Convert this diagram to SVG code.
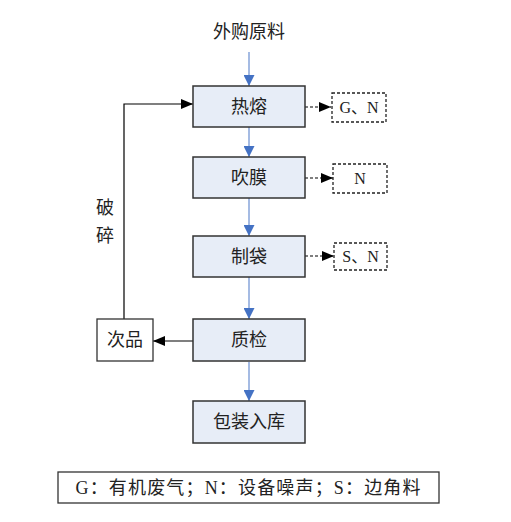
<svg xmlns="http://www.w3.org/2000/svg" width="511" height="522" viewBox="0 0 511 522">
<style>
.proc rect{fill:#E7EDF7;stroke:#333;stroke-width:1.5}
.plain rect{fill:#fff;stroke:#333;stroke-width:1.3}
.dash rect{fill:#fff;stroke:#222;stroke-width:1.3;stroke-dasharray:3 2}
text{font-family:"Liberation Serif","Noto Sans CJK SC",serif;fill:#222;text-anchor:middle;dominant-baseline:central}
.t{font-size:18px}
.s{font-size:16px}
.flow{stroke:#8FAADC;stroke-width:1.6;fill:none}
.blk{stroke:#000;stroke-width:1.2;fill:none}
.dsh{stroke:#000;stroke-width:1.2;stroke-dasharray:3 2;fill:none}
</style>
<defs>
<marker id="ab" viewBox="0 0 10 10" refX="10" refY="5" markerWidth="11" markerHeight="11" markerUnits="userSpaceOnUse" orient="auto"><path d="M0,0 L10,5 L0,10 z" fill="#4472C4"/></marker>
<marker id="ak" viewBox="0 0 12 10" refX="12" refY="5" markerWidth="12" markerHeight="10" markerUnits="userSpaceOnUse" orient="auto"><path d="M0,0 L12,5 L0,10 z" fill="#000"/></marker>
</defs>
<g id="connectors">
<line class="flow" x1="249" y1="52" x2="249" y2="86" marker-end="url(#ab)"/>
<line class="flow" x1="249" y1="127" x2="249" y2="157" marker-end="url(#ab)"/>
<line class="flow" x1="249" y1="198" x2="249" y2="236" marker-end="url(#ab)"/>
<line class="flow" x1="249" y1="277" x2="249" y2="319" marker-end="url(#ab)"/>
<line class="flow" x1="249" y1="362" x2="249" y2="401" marker-end="url(#ab)"/>
<line class="dsh" x1="305" y1="107" x2="331" y2="107" marker-end="url(#ak)"/>
<line class="dsh" x1="305" y1="178" x2="333" y2="178" marker-end="url(#ak)"/>
<line class="dsh" x1="305" y1="256" x2="334" y2="256" marker-end="url(#ak)"/>
<line class="blk" x1="193" y1="341" x2="153" y2="341" marker-end="url(#ak)"/>
<polyline class="blk" points="124,319 124,104 193,104" marker-end="url(#ak)"/>
</g>
<g id="source"><text class="t" x="249" y="32">外购原料</text></g>
<g id="n-rere" class="proc"><rect x="193" y="86" width="112" height="41"/><text class="t" x="249" y="106.5">热熔</text></g>
<g id="n-chuimo" class="proc"><rect x="193" y="157" width="112" height="41"/><text class="t" x="249" y="177.5">吹膜</text></g>
<g id="n-zhidai" class="proc"><rect x="193" y="236" width="112" height="41"/><text class="t" x="249" y="256.5">制袋</text></g>
<g id="n-zhijian" class="proc"><rect x="193" y="319" width="112" height="42"/><text class="t" x="249" y="340">质检</text></g>
<g id="n-baozhuang" class="proc"><rect x="193" y="401" width="112" height="42"/><text class="t" x="249" y="422">包装入库</text></g>
<g id="n-cipin" class="plain"><rect x="97" y="319" width="56" height="42"/><text class="t" x="125" y="340">次品</text></g>
<g id="o1" class="dash"><rect x="332" y="93" width="54" height="29"/><text class="s" x="359" y="107.5">G、N</text></g>
<g id="o2" class="dash"><rect x="333" y="164" width="54" height="29"/><text class="s" x="360" y="178.5">N</text></g>
<g id="o3" class="dash"><rect x="334" y="243" width="53" height="27"/><text class="s" x="360.5" y="256.5">S、N</text></g>
<g id="label-posui"><text class="t" x="105" y="208">破</text><text class="t" x="105" y="236">碎</text></g>
<g id="legend" class="plain"><rect x="58" y="472" width="381" height="31"/><text class="t" x="248" y="487.5" textLength="345" lengthAdjust="spacing">G：有机废气；N：设备噪声；S：边角料</text></g>
</svg>
